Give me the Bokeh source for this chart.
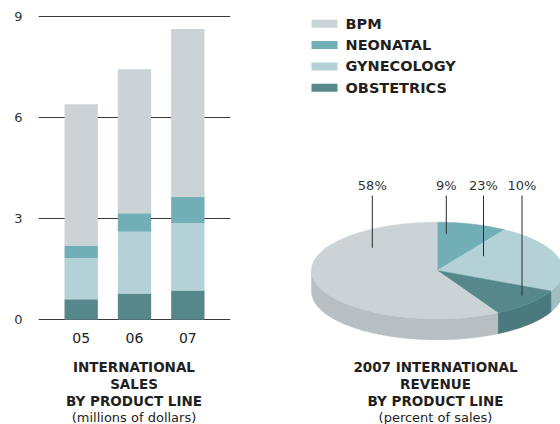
import numpy as np
from bokeh.plotting import figure
from bokeh.layouts import row, column
from bokeh.models import Range1d, FactorRange, FixedTicker, ColumnDataSource
from bokeh.core.properties import value
from bokeh.embed import file_html
from bokeh.resources import INLINE

# ---------------- data ----------------
years = ["05", "06", "07"]
stack_order = ["OBSTETRICS", "GYNECOLOGY", "NEONATAL", "BPM"]   # bottom -> top
obstetrics = [0.61, 0.78, 0.87]
gynecology = [1.22, 1.83, 2.00]
neonatal = [0.37, 0.55, 0.77]
bpm = [4.19, 4.27, 4.98]
y_ticks = [0, 3, 6, 9]

legend_order = ["BPM", "NEONATAL", "GYNECOLOGY", "OBSTETRICS"]

pie_order = ["NEONATAL", "GYNECOLOGY", "OBSTETRICS", "BPM"]   # clockwise from 12 o'clock
pie_share = [9, 23, 10, 58]
pie_labels = ["9%", "23%", "10%", "58%"]

left_title = ["INTERNATIONAL", "SALES", "BY PRODUCT LINE"]
left_sub = "(millions of dollars)"
right_title = ["2007 INTERNATIONAL", "REVENUE", "BY PRODUCT LINE"]
right_sub = "(percent of sales)"

# ---------------- style ----------------
colors = {"BPM": "#cbd3d6", "NEONATAL": "#72aeb5",
          "GYNECOLOGY": "#b3d1d6", "OBSTETRICS": "#56888b"}
side_colors = {"BPM": "#b7bfc2", "NEONATAL": "#62999f",
               "GYNECOLOGY": "#a1bec3", "OBSTETRICS": "#4a7a7d"}
ink = "#231f20"
FONT = value("DejaVu Sans")

TOP_H = 354   # height of the upper row (bar chart + pie panel)

# ---------------- bar chart ----------------
# frame spans the full figure height; value 0 sits at 319px, 9 at 16px
px_per_unit = 303.6 / 9
y_top = 9 + 15.7 / px_per_unit
y_bottom = 0 - (TOP_H - 319.3) / px_per_unit

src = ColumnDataSource(dict(year=years, OBSTETRICS=obstetrics, GYNECOLOGY=gynecology,
                            NEONATAL=neonatal, BPM=bpm))
bar = figure(x_range=FactorRange(*years, range_padding=0.2),
             y_range=Range1d(y_bottom, y_top),
             width=280, height=TOP_H, output_backend="svg", toolbar_location=None,
             min_border_left=38, min_border_right=50, min_border_top=0, min_border_bottom=0)
bar.vbar_stack(stack_order, x="year", width=0.625, source=src,
               fill_color=[colors[k] for k in stack_order], line_color=None)
bar.outline_line_color = None
bar.xgrid.visible = False
bar.ygrid.ticker = FixedTicker(ticks=y_ticks)
bar.ygrid.grid_line_color = "#3a3a3a"
bar.ygrid.grid_line_width = 1
bar.yaxis.ticker = FixedTicker(ticks=y_ticks)
bar.xaxis.fixed_location = 0
for ax in (bar.xaxis[0], bar.yaxis[0]):
    ax.axis_line_color = None
    ax.major_tick_line_color = None
    ax.minor_tick_line_color = None
    ax.major_label_text_font = "DejaVu Sans"
    ax.major_label_text_color = "#333333"
bar.yaxis.major_label_text_font_size = "13px"
bar.yaxis.major_label_standoff = 10
bar.xaxis.major_label_text_font_size = "14px"
bar.xaxis.major_label_text_color = "#222222"
bar.xaxis.major_label_standoff = 7

# ---------------- right panel: legend + 3D pie ----------------
rp = figure(x_range=Range1d(280, 560), y_range=Range1d(TOP_H, 0), width=280, height=TOP_H,
            output_backend="svg", toolbar_location=None, x_axis_type=None, y_axis_type=None,
            min_border=0)
rp.outline_line_color = None
rp.xgrid.visible = False
rp.ygrid.visible = False

leg_top, leg_step = 23.3, 21.3
leg_y = [leg_top + i * leg_step for i in range(len(legend_order))]
rp.rect(x=[324] * len(legend_order), y=leg_y, width=26, height=8,
        fill_color=[colors[k] for k in legend_order], line_color=None)
rp.text(x=[345] * len(legend_order), y=leg_y, text=legend_order, text_font=FONT,
        text_font_style="bold", text_font_size="14.5px", text_baseline="middle",
        text_color=ink)

cx, cy, rx, ry, depth = 436.7, 270.0, 125.7, 48.3, 21.0
total = float(sum(pie_share))
bounds = np.cumsum([0] + pie_share) / total * 2 * np.pi  # clockwise from top

def pt(t):
    return cx + rx * np.sin(t), cy - ry * np.cos(t)

side_xs, side_ys, side_c = [], [], []
top_xs, top_ys, top_c = [], [], []
for i, name in enumerate(pie_order):
    a, b = bounds[i], bounds[i + 1]
    lo, hi = max(a, np.pi / 2), min(b, 3 * np.pi / 2)   # visible front side
    if hi > lo:
        t = np.linspace(lo, hi, 80)
        x, y = pt(t)
        side_xs.append(list(x) + list(x[::-1]))
        side_ys.append(list(y) + list((y + depth)[::-1]))
        side_c.append(side_colors[name])
    t = np.linspace(a, b, 160)
    x, y = pt(t)
    top_xs.append([cx] + list(x))
    top_ys.append([cy] + list(y))
    top_c.append(colors[name])

rp.patches(side_xs, side_ys, fill_color=side_c, line_color=side_c, line_width=0.5)
rp.patches(top_xs, top_ys, fill_color=top_c, line_color=top_c, line_width=0.5)

# label placement (annotation layout)
label_x = [445.8, 483.0, 521.5, 371.8]
leader_end_y = [233.3, 255.7, 295.0, 247.3]
rp.segment(x0=label_x, y0=[195] * 4, x1=label_x, y1=leader_end_y,
           line_color="#2a2a2a", line_width=1)
rp.text(x=label_x, y=[185] * 4, text=pie_labels, text_font=FONT, text_font_size="13px",
        text_align="center", text_baseline="middle", text_color="#333333")

# ---------------- titles ----------------
tp = figure(x_range=Range1d(0, 560), y_range=Range1d(424, TOP_H), width=560, height=424 - TOP_H,
            output_backend="svg", toolbar_location=None, x_axis_type=None, y_axis_type=None,
            min_border=0)
tp.outline_line_color = None
tp.xgrid.visible = False
tp.ygrid.visible = False
line_y = [366.5, 383.5, 400.5]
sub_y = 416.5
for cxt, lines, sub in ((133.5, left_title, left_sub), (435.0, right_title, right_sub)):
    tp.text(x=[cxt] * len(lines), y=line_y, text=lines, text_font=FONT,
            text_font_style="bold", text_font_size="13.5px", text_align="center",
            text_baseline="middle", text_color=ink)
    tp.text(x=[cxt], y=[sub_y], text=[sub], text_font=FONT, text_font_size="13px",
            text_align="center", text_baseline="middle", text_color=ink)

layout = column(row(bar, rp), tp)
open("out.html", "w").write(file_html(layout, INLINE))
